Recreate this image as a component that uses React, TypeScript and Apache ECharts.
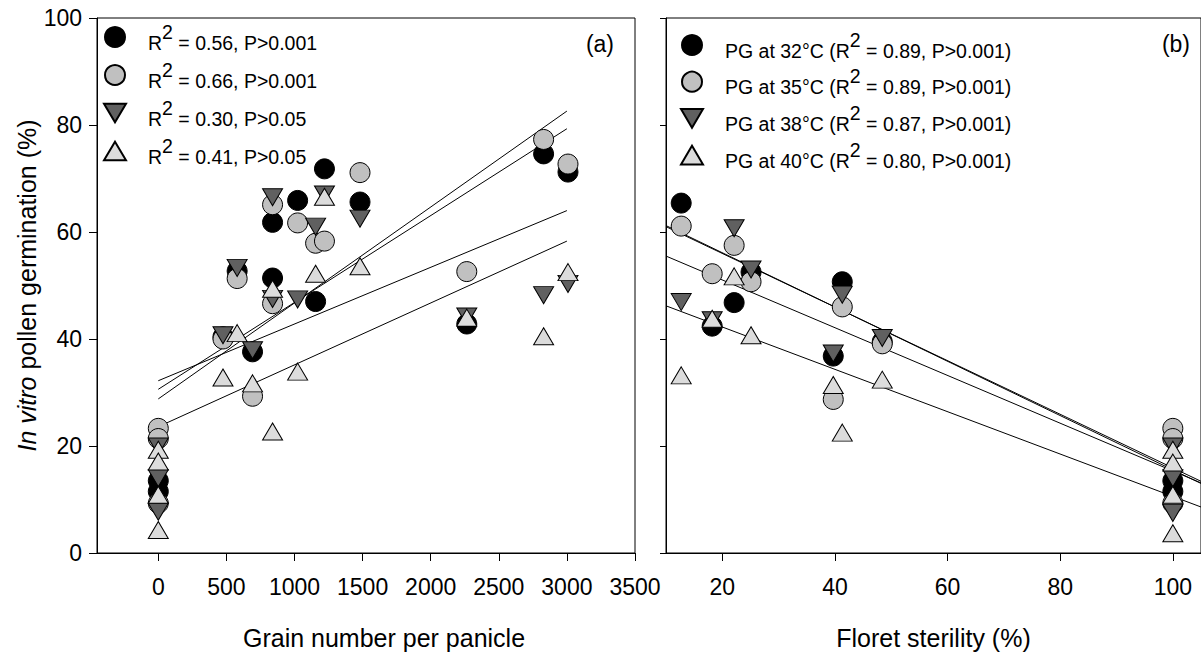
import React, { useEffect, useRef } from 'react';
import * as echarts from 'echarts';

const FONT = '"Liberation Sans", Arial, Helvetica, sans-serif';

// ---- Panel (a): pollen germination vs grain number per panicle ----
const grainTicks = [0, 500, 1000, 1500, 2000, 2500, 3000, 3500];

const grain32 = [
  [0, 13.5], [0, 11.5], [475, 40.4], [579, 52.7], [692, 37.6], [839, 61.8], [839, 51.4],
  [1023, 65.9], [1155, 47.0], [1220, 71.8], [1481, 65.6], [2265, 42.8], [2829, 74.6], [3008, 71.2],
];
const grain35 = [
  [0, 23.3], [0, 21.4], [0, 9.3], [475, 40.0], [579, 51.3], [692, 29.3], [839, 65.1], [839, 46.6],
  [1023, 61.7], [1155, 57.9], [1220, 58.3], [1481, 71.1], [2265, 52.6], [2829, 77.3], [3008, 72.7],
];
const grain38 = [
  [0, 19.9], [0, 14.0], [0, 7.7], [475, 40.7], [579, 53.3], [692, 37.9], [839, 66.5], [839, 47.5],
  [1023, 47.4], [1155, 61.0], [1220, 67.0], [1481, 62.5], [2265, 44.2], [2829, 48.2], [3008, 50.3],
];
const grain40 = [
  [0, 19.3], [0, 17.1], [0, 10.9], [0, 4.3], [475, 32.8], [579, 41.1], [692, 31.7], [839, 49.4],
  [839, 22.7], [1023, 33.9], [1155, 52.2], [1220, 66.6], [1481, 53.6], [2265, 44.0], [2829, 40.5],
  [3008, 52.5],
];
// fitted regression lines, end points [x, y]
const grainFit32 = [[0, 30.6], [3000, 79.3]];
const grainFit35 = [[0, 28.8], [3000, 82.6]];
const grainFit38 = [[0, 32.2], [3000, 64.0]];
const grainFit40 = [[0, 23.6], [3000, 58.3]];
const grainR2 = ['0.56', '0.66', '0.30', '0.41'];
const grainP = ['0.001', '0.001', '0.05', '0.05'];

// ---- Panel (b): pollen germination vs floret sterility ----
const sterTicks = [20, 40, 60, 80, 100];

const ster32 = [
  [12.7, 65.4], [18.2, 42.4], [22.1, 46.8], [25.1, 52.5], [39.7, 36.8], [41.3, 50.7],
  [48.4, 39.5], [100, 13.5], [100, 11.5],
];
const ster35 = [
  [12.7, 61.1], [18.2, 52.2], [22.1, 57.5], [25.1, 50.7], [39.7, 28.7], [41.3, 46.0],
  [48.4, 39.1], [100, 23.3], [100, 21.4], [100, 9.3],
];
const ster38 = [
  [12.7, 46.9], [18.2, 43.5], [22.1, 60.7], [25.1, 53.0], [39.7, 37.3], [41.3, 48.3],
  [48.4, 40.2], [100, 19.9], [100, 14.0], [100, 7.5],
];
const ster40 = [
  [12.7, 33.2], [18.2, 43.8], [22.1, 51.7], [25.1, 40.7], [39.7, 31.4], [41.3, 22.5],
  [48.4, 32.4], [100, 19.3], [100, 16.9], [100, 10.9], [100, 3.7],
];
const sterFit32 = [[10, 61.2], [105, 13.0]];
const sterFit35 = [[10, 55.5], [105, 13.1]];
const sterFit38 = [[10, 61.0], [105, 13.4]];
const sterFit40 = [[10, 46.2], [105, 8.6]];
const sterR2 = ['0.89', '0.89', '0.87', '0.80'];
const sterP = ['0.001', '0.001', '0.001', '0.001'];

const temps = ['32°C', '35°C', '38°C', '40°C'];

// marker styles per temperature
const DOWN_TRI = 'path://M0,0L20,0L10,17Z';
const UP_TRI = 'path://M10,0L20,17L0,17Z';
const markers = [
  { symbol: 'circle', size: 20, color: '#000000' },
  { symbol: 'circle', size: 20, color: '#c0c0c0' },
  { symbol: DOWN_TRI, size: [20, 17], color: '#606060' },
  { symbol: UP_TRI, size: [20, 17], color: '#dcdcdc' },
];

const richText = {
  g: { width: 17, lineHeight: 31, fontSize: 19.5, fontFamily: FONT },
  t: { fontSize: 19.5, lineHeight: 22, verticalAlign: 'bottom', fontFamily: FONT, color: '#000' },
  s: { fontSize: 19.5, lineHeight: 22, verticalAlign: 'top', fontFamily: FONT, color: '#000' },
};

const plainNumber = (v: number) => String(v);

export default function App() {
  const ref = useRef<HTMLDivElement>(null);

  useEffect(() => {
    if (!ref.current) return;
    const chart = echarts.init(ref.current, undefined, { renderer: 'svg' });

    const grainData = [grain32, grain35, grain38, grain40];
    const grainFits = [grainFit32, grainFit35, grainFit38, grainFit40];
    const sterData = [ster32, ster35, ster38, ster40];
    const sterFits = [sterFit32, sterFit35, sterFit38, sterFit40];

    const leftIds = temps.map((t) => 'grain ' + t);
    const rightIds = temps.map((t) => 'sterility ' + t);

    const fitSeries = (fit: number[][], axis: number) => ({
      type: 'line',
      xAxisIndex: axis,
      yAxisIndex: axis,
      data: fit,
      symbol: 'none',
      silent: true,
      z: 1,
      lineStyle: { color: '#000', width: 1 },
    });

    const scatterSeries = (name: string, data: number[][], i: number, axis: number) => ({
      type: 'scatter',
      name,
      xAxisIndex: axis,
      yAxisIndex: axis,
      data,
      symbol: markers[i].symbol,
      symbolSize: markers[i].size,
      z: 2 + i,
      itemStyle: { color: markers[i].color, borderColor: '#000', borderWidth: 1, opacity: 1 },
    });

    const series: any[] = [];
    grainFits.forEach((f) => series.push(fitSeries(f, 0)));
    sterFits.forEach((f) => series.push(fitSeries(f, 1)));
    grainData.forEach((d, i) => series.push(scatterSeries(leftIds[i], d, i, 0)));
    sterData.forEach((d, i) => series.push(scatterSeries(rightIds[i], d, i, 1)));

    const axisCommon = {
      type: 'value',
      axisLine: { show: true, onZero: false, lineStyle: { color: '#000', width: 1 } },
      splitLine: { show: false },
    };

    const option: any = {
      animation: false,
      backgroundColor: '#fff',
      textStyle: { fontFamily: FONT },
      grid: [
        { left: 97, top: 18, width: 538, height: 538, show: true, borderColor: '#000', borderWidth: 1 },
        { left: 666, top: 18, width: 538, height: 538, show: true, borderColor: '#000', borderWidth: 1 },
      ],
      xAxis: [
        {
          ...axisCommon,
          gridIndex: 0,
          min: -450,
          max: 3500,
          name: 'Grain number per panicle',
          nameLocation: 'middle',
          nameGap: 72,
          nameTextStyle: { fontSize: 25, color: '#000', fontFamily: FONT, padding: [0, 0, 0, 36] },
          axisTick: { show: true, length: 8, lineStyle: { color: '#000' }, customValues: grainTicks },
          axisLabel: {
            fontSize: 23, color: '#000', margin: 22, fontFamily: FONT,
            customValues: grainTicks, formatter: plainNumber,
          },
        },
        {
          ...axisCommon,
          gridIndex: 1,
          min: 10,
          max: 105,
          name: 'Floret sterility (%)',
          nameLocation: 'middle',
          nameGap: 72,
          nameTextStyle: { fontSize: 25, color: '#000', fontFamily: FONT },
          axisTick: { show: true, length: 8, lineStyle: { color: '#000' }, customValues: sterTicks },
          axisLabel: {
            fontSize: 23, color: '#000', margin: 22, fontFamily: FONT,
            customValues: sterTicks, formatter: plainNumber,
          },
        },
      ],
      yAxis: [
        {
          ...axisCommon,
          gridIndex: 0,
          min: 0,
          max: 100,
          interval: 20,
          name: '{i|In vitro} pollen germination (%)',
          nameLocation: 'middle',
          nameGap: 54,
          nameTextStyle: {
            fontSize: 25,
            color: '#000',
            fontFamily: FONT,
            rich: { i: { fontStyle: 'italic', fontSize: 25, color: '#000', fontFamily: FONT } },
          },
          axisTick: { show: true, length: 8, lineStyle: { color: '#000' } },
          axisLabel: { fontSize: 23, color: '#000', margin: 15, fontFamily: FONT },
        },
        {
          ...axisCommon,
          gridIndex: 1,
          min: 0,
          max: 100,
          interval: 20,
          axisTick: { show: true, length: 6, lineStyle: { color: '#000' } },
          axisLabel: { show: false },
        },
      ],
      legend: [
        {
          data: leftIds,
          orient: 'vertical',
          left: 103,
          top: 21.5,
          padding: 0,
          itemGap: 7,
          itemWidth: 22,
          itemHeight: 20,
          selectedMode: false,
          symbolRotate: 0,
          formatter: (name: string) => {
            const i = leftIds.indexOf(name);
            return `{g| }{t|R}{s|2}{t| = ${grainR2[i]}, P>${grainP[i]}}`;
          },
          textStyle: { rich: richText },
        },
        {
          data: rightIds,
          orient: 'vertical',
          left: 680,
          top: 29.5,
          padding: 0,
          itemGap: 5.7,
          itemWidth: 22,
          itemHeight: 20,
          selectedMode: false,
          symbolRotate: 0,
          formatter: (name: string) => {
            const i = rightIds.indexOf(name);
            return `{g| }{t|PG at ${temps[i]} (R}{s|2}{t| = ${sterR2[i]}, P>${sterP[i]})}`;
          },
          textStyle: { rich: richText },
        },
      ],
      graphic: [
        {
          type: 'text',
          x: 614,
          y: 44,
          style: { text: '(a)', fontSize: 23, fontFamily: FONT, fill: '#000', align: 'right', verticalAlign: 'middle' },
        },
        {
          type: 'text',
          x: 1190,
          y: 44,
          style: { text: '(b)', fontSize: 23, fontFamily: FONT, fill: '#000', align: 'right', verticalAlign: 'middle' },
        },
      ],
      series,
    };

    chart.setOption(option);
    return () => chart.dispose();
  }, []);

  return (
    <div
      ref={ref}
      style={{ position: 'absolute', left: 0, top: 0, width: 1201, height: 655, background: '#fff' }}
    />
  );
}
